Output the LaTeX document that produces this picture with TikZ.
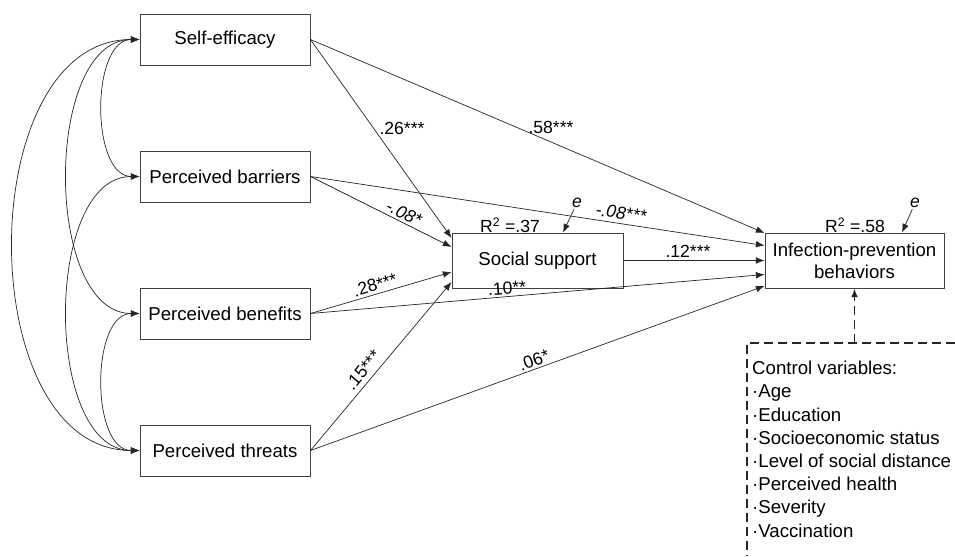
\documentclass[tikz,border=0pt]{standalone}
\usepackage{fontspec}
\setmainfont{Liberation Sans}
\usetikzlibrary{arrows.meta,calc}
\begin{document}
\begin{tikzpicture}[x=0.03cm,y=-0.03cm,
  box/.style={draw=black!75,line width=0.8pt,minimum height=1.53cm,minimum width=5.1cm,inner sep=2pt,font=\fontsize{15.9}{19}\selectfont,align=center},
  tip/.style={-{Latex[length=2.6mm,width=2mm]}},
  pth/.style={draw=black!85,line width=0.6pt,tip},
  corr/.style={draw=black!85,line width=0.6pt,{Latex[length=2.6mm,width=2mm]}-{Latex[length=2.6mm,width=2mm]}},
  lab/.style={font=\fontsize{15}{18}\selectfont,inner sep=0pt},
  ilab/.style={font=\fontsize{15}{18}\selectfont\itshape,inner sep=0pt},
  dashbox/.style={draw=black!85,line width=1.3pt,dash pattern=on 0.27cm off 0.15cm},
  ]
\useasboundingbox (0,0) rectangle (955,556);

\node[box] (se) at (225,39.5) {Self-efficacy};
\node[box] (pb) at (225,176.5) {Perceived barriers};
\node[box] (pbn) at (225,313.5) {Perceived benefits};
\node[box] (pt) at (225,450.5) {Perceived threats};
\node[box,minimum width=5.13cm,minimum height=1.65cm] (ss) at (537.5,260.5) {Social support};
\node[box,minimum width=5.37cm,minimum height=1.65cm] (ip) at (854.5,260.5) {Infection-prevention\\behaviors};

% correlations
\draw[corr] (se.west) .. controls +(-49,0) and +(-49,0) .. (pb.west);
\draw[corr] (se.west) .. controls +(-96,0) and +(-96,0) .. (pbn.west);
\draw[corr] (se.west) .. controls +(-168,0) and +(-168,0) .. (pt.west);
\draw[corr] (pb.west) .. controls +(-96,0) and +(-96,0) .. (pt.west);
\draw[corr] (pbn.west) .. controls +(-49,0) and +(-49,0) .. (pt.west);

% paths
\draw[pth] (se.east) -- ([yshift=0.675cm]ss.west);
\draw[pth] (se.east) -- ([yshift=0.825cm]ip.west);
\draw[pth] (pb.east) -- ([yshift=0.405cm]ss.west);
\draw[pth] (pb.east) -- ([yshift=0.45cm]ip.west);
\draw[pth] (pbn.east) -- ([yshift=-0.345cm]ss.west);
\draw[pth] (pbn.east) -- ([yshift=-0.42cm]ip.west);
\draw[pth] (pt.east) -- ([yshift=-0.645cm]ss.west);
\draw[pth] (pt.east) -- ([yshift=-0.765cm]ip.west);
\draw[pth] (ss.east) -- (ip.west);

% labels
\node[lab] (l1) at (402,128) {.26***};
\node[lab] (l2) at (551,127) {.58***};
\node[ilab,rotate=-26] (l3) at (404,213) {-.08*};
\node[ilab,rotate=-8] (l4) at (621,213) {-.08***};
\node[lab] (l5) at (688,251) {.12***};
\node[lab,rotate=16] (l6) at (375,285) {.28***};
\node[lab,rotate=4] (l7) at (507,288) {.10**};
\node[lab,rotate=50] (l8) at (363,370) {.15***};
\node[lab,rotate=20] (l9) at (534,360) {.06*};

% R2 and errors
\node[lab] (r1) at (510,225) {R\textsuperscript{2} =.37};
\node[lab] (r2) at (855,225) {R\textsuperscript{2} =.58};
\node[ilab,inner sep=1pt] (e1) at (577,203) {e};
\node[ilab,inner sep=1pt] (e2) at (915,203) {e};
\draw[pth] (e1) -- ([xshift=0.765cm]ss.north);
\draw[pth] (e2) -- ([xshift=1.425cm]ip.north);

% control variables
\coordinate (dtl) at (747,343);
\coordinate (dtr) at (955,343);
\coordinate (dbl) at (747,556);
\draw[dashbox] (dtr) -- (dtl) -- (dbl);
\draw[dashbox,tip] (ip.south |- dtl) -- (ip.south);
\node[anchor=north west,align=left,inner sep=0pt,font=\fontsize{15.9}{19.8}\selectfont] (cv) at (752,361)
 {Control variables:\\·Age\\·Education\\·Socioeconomic status\\·Level of social distance\\·Perceived health\\·Severity\\·Vaccination};
\end{tikzpicture}
\end{document}
